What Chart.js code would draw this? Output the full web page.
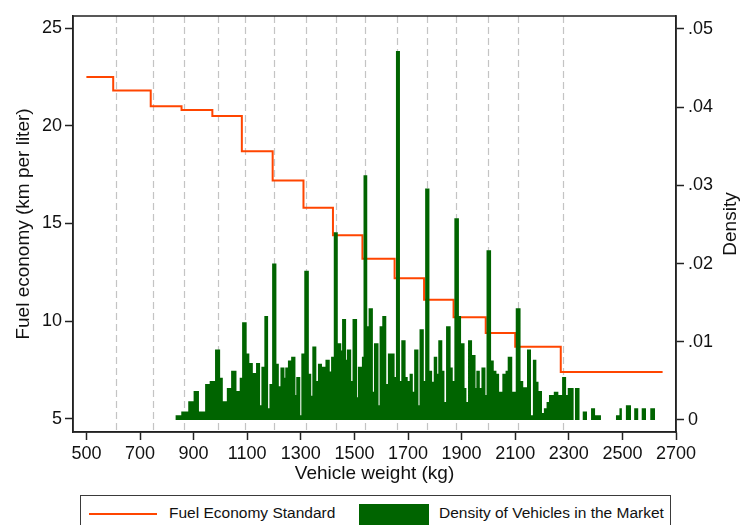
<!DOCTYPE html>
<html>
<head>
<meta charset="utf-8">
<script src="https://cdn.jsdelivr.net/npm/chart.js@4.4.1/dist/chart.umd.min.js"></script>
<style>
  html, body { margin: 0; padding: 0; background: #fff; }
  #wrap { position: relative; width: 741px; height: 525px; overflow: hidden;
          font-family: "Liberation Sans", Arial, sans-serif; color: #111; }
  #chart { position: absolute; left: 0; top: 0; }
  #legend { position: absolute; left: 80px; top: 495px; width: 589px; height: 40px;
            border: 1px solid #3a3a3a; background: #fff; }
  #legend .swatch-line { position: absolute; left: 8px; top: 17px; width: 68px; height: 2px; background: #ff4500; }
  #legend .swatch-box { position: absolute; left: 278px; top: 8px; width: 70px; height: 32px; background: #006400; }
  #legend .label { position: absolute; top: 8px; font-size: 15.5px; line-height: 18px; white-space: nowrap; }
</style>
</head>
<body>
<div id="wrap">
  <canvas id="chart" width="741" height="525"></canvas>
  <div id="legend">
    <div class="swatch-line"></div>
    <div class="label" style="left:88px">Fuel Economy Standard</div>
    <div class="swatch-box"></div>
    <div class="label" style="left:358px">Density of Vehicles in the Market</div>
  </div>
</div>
<script>
// ---------------------------------------------------------------------------
// Data
// ---------------------------------------------------------------------------

const weightTicks = [500, 700, 900, 1100, 1300, 1500, 1700, 1900, 2100, 2300, 2500, 2700];
const fuelTicks = [5, 10, 15, 20, 25];
const densityTicks = [0, 0.01, 0.02, 0.03, 0.04, 0.05];

// fuel economy standard: level starts at each weight break (km/l)
const stdBreaks = [500, 600, 740, 855, 970, 1080, 1195, 1310, 1420, 1530, 1650, 1760, 1870, 1990, 2100, 2270, 2650];
const stdLevels = [22.5, 21.8, 21.0, 20.8, 20.5, 18.7, 17.2, 15.8, 14.4, 13.2, 12.2, 11.1, 10.2, 9.4, 8.7, 7.4, 7.4];

// dashed reference lines (kg)
const thresholdLines = [610, 750, 865, 990, 1090, 1200, 1320, 1430, 1540, 1660, 1770, 1880, 2000, 2110, 2280];

// histogram: left edge of each bar (kg) and its density
const histStart = [
  832, 854, 880, 900, 920, 943, 960, 980, 999, 1009, 1024, 1040, 1060, 1072, 1081, 1098, 1108, 1121, 1133, 1148,
  1153, 1164, 1178, 1183, 1193, 1209, 1218, 1224, 1239, 1242, 1252, 1264, 1280, 1283, 1298, 1302, 1313, 1330, 1339, 1343,
  1358, 1364, 1379, 1392, 1408, 1413, 1423, 1438, 1451, 1454, 1469, 1472, 1488, 1493, 1510, 1513, 1528, 1534, 1548, 1553,
  1569, 1573, 1590, 1594, 1604, 1619, 1625, 1650, 1655, 1670, 1675, 1691, 1699, 1706, 1718, 1723, 1739, 1743, 1759, 1764,
  1780, 1790, 1796, 1809, 1813, 1828, 1836, 1842, 1859, 1867, 1873, 1890, 1898, 1911, 1918, 1924, 1939, 1952, 1955, 1968,
  1974, 1989, 1993, 2010, 2020, 2030, 2040, 2052, 2064, 2072, 2089, 2102, 2120, 2130, 2144, 2159, 2166, 2179, 2187, 2200,
  2207, 2217, 2226, 2244, 2261, 2275, 2290, 2296, 2318, 2323, 2340, 2352, 2368, 2383, 2398, 2420, 2476, 2489, 2498, 2513,
  2532, 2544, 2559, 2572, 2588, 2604, 2622,
];
const histDensity = [
  0.0006, 0.0011, 0.0024, 0.0037, 0.0011, 0.0046, 0.0050, 0.0090, 0.0054, 0.0024, 0.0041, 0.0063, 0.0037, 0.0054, 0.0125, 0.0085, 0.0073, 0.0060, 0.0073, 0.0019,
  0.0068, 0.0133, 0.0015, 0.0046, 0.0200, 0.0072, 0.0043, 0.0067, 0.0054, 0.0067, 0.0076, 0.0081, 0.0032, 0.0055, 0.0006, 0.0085, 0.0191, 0.0059, 0.0031, 0.0094,
  0.0050, 0.0072, 0.0068, 0.0077, 0.0062, 0.0081, 0.0240, 0.0098, 0.0089, 0.0129, 0.0077, 0.0090, 0.0050, 0.0129, 0.0029, 0.0068, 0.0081, 0.0313, 0.0120, 0.0143,
  0.0036, 0.0098, 0.0019, 0.0120, 0.0133, 0.0046, 0.0085, 0.0055, 0.0472, 0.0050, 0.0102, 0.0055, 0.0050, 0.0059, 0.0036, 0.0090, 0.0019, 0.0116, 0.0050, 0.0296,
  0.0063, 0.0049, 0.0081, 0.0059, 0.0102, 0.0063, 0.0023, 0.0120, 0.0067, 0.0050, 0.0258, 0.0133, 0.0098, 0.0041, 0.0023, 0.0102, 0.0083, 0.0041, 0.0063, 0.0041,
  0.0067, 0.0032, 0.0217, 0.0076, 0.0063, 0.0059, 0.0036, 0.0059, 0.0063, 0.0081, 0.0036, 0.0143, 0.0050, 0.0042, 0.0090, 0.0006, 0.0077, 0.0049, 0.0037, 0.0009,
  0.0015, 0.0023, 0.0032, 0.0036, 0.0032, 0.0055, 0.0032, 0.0041, 0, 0.0041, 0, 0.0011, 0, 0.0015, 0.0006, 0, 0.0006, 0.0015, 0, 0.0019,
  0, 0.0015, 0, 0.0015, 0, 0.0015, 0,
];

// ---------------------------------------------------------------------------
// Plugins: dashed threshold lines, plot frame, right-hand title
// ---------------------------------------------------------------------------

const FONT = "'Liberation Sans', Arial, sans-serif";
const INK = "#111";
const AXIS = "#222";

const thresholdLinesPlugin = {
  id: "thresholdLines",
  beforeDatasetsDraw(chart) {
    const { ctx, chartArea, scales } = chart;
    ctx.save();
    ctx.strokeStyle = "#c4c4c4";
    ctx.lineWidth = 1.2;
    ctx.setLineDash([7, 4]);
    thresholdLines.forEach(kg => {
      const x = Math.round(scales.x.getPixelForValue(kg)) + 0.5;
      ctx.beginPath();
      ctx.moveTo(x, chartArea.top);
      ctx.lineTo(x, chartArea.bottom);
      ctx.stroke();
    });
    ctx.restore();
  },
};

const framePlugin = {
  id: "frame",
  afterDraw(chart) {
    const { ctx, chartArea } = chart;
    ctx.save();
    ctx.strokeStyle = AXIS;
    ctx.lineWidth = 1.5;
    ctx.strokeRect(chartArea.left, chartArea.top, chartArea.right - chartArea.left, chartArea.bottom - chartArea.top);
    // Chart.js turns right-hand titles the other way, so draw this one by hand
    ctx.translate(chart.width - 10, (chartArea.top + chartArea.bottom) / 2);
    ctx.rotate(-Math.PI / 2);
    ctx.fillStyle = INK;
    ctx.font = "19px " + FONT;
    ctx.textAlign = "center";
    ctx.textBaseline = "middle";
    ctx.fillText("Density", 0, 0);
    ctx.restore();
  },
};

// ---------------------------------------------------------------------------
// Chart
// ---------------------------------------------------------------------------

Chart.defaults.font.family = FONT;
Chart.defaults.color = INK;

const tickFont = { size: 18 };
const titleFont = { size: 19 };
const axisGrid = { drawOnChartArea: false, drawTicks: true, tickLength: 8, tickWidth: 1.5, tickColor: AXIS };
const axisBorder = { color: AXIS, width: 1.5 };

new Chart(document.getElementById("chart"), {
  type: "line",
  data: {
    datasets: [
      {
        label: "Density of Vehicles in the Market",
        data: histStart.map((kg, i) => ({ x: kg, y: histDensity[i] })),
        yAxisID: "yDensity",
        stepped: true,
        fill: "origin",
        backgroundColor: "#006400",
        borderWidth: 0,
        pointRadius: 0,
        order: 0,
      },
      {
        label: "Fuel Economy Standard",
        data: stdBreaks.map((kg, i) => ({ x: kg, y: stdLevels[i] })),
        yAxisID: "yFuel",
        stepped: true,
        fill: false,
        borderColor: "#ff4500",
        borderWidth: 2,
        pointRadius: 0,
        order: 1,
      },
    ],
  },
  options: {
    responsive: false,
    animation: false,
    events: [],
    layout: { padding: { top: 16, bottom: 40, left: 0, right: 0 } },
    plugins: { legend: { display: false }, tooltip: { enabled: false } },
    scales: {
      x: {
        type: "linear",
        position: "bottom",
        min: 450,
        max: 2700,
        afterBuildTicks: s => { s.ticks = weightTicks.map(v => ({ value: v })); },
        afterFit: s => { s.height = 53; },
        ticks: { font: tickFont, color: INK, padding: 3, maxRotation: 0, autoSkip: false, callback: v => String(v) },
        grid: axisGrid,
        border: axisBorder,
        title: { display: true, text: "Vehicle weight (kg)", font: titleFont, color: INK, padding: { top: 0, bottom: 0 } },
      },
      yFuel: {
        type: "linear",
        position: "left",
        min: 4.335,
        max: 25.614,
        afterBuildTicks: s => { s.ticks = fuelTicks.map(v => ({ value: v })); },
        afterFit: s => { s.width = 73; },
        ticks: { font: tickFont, color: INK, padding: 3, callback: v => String(v) },
        grid: axisGrid,
        border: axisBorder,
        title: { display: true, text: "Fuel economy (km per liter)", font: titleFont, color: INK, padding: { top: 12, bottom: 0 } },
      },
      yDensity: {
        type: "linear",
        position: "right",
        min: -0.001535,
        max: 0.05166,
        afterBuildTicks: s => { s.ticks = densityTicks.map(v => ({ value: v })); },
        afterFit: s => { s.width = 65; },
        ticks: { font: tickFont, color: INK, padding: 4, callback: v => (v === 0 ? "0" : v.toFixed(2).replace(/^0/, "")) },
        grid: axisGrid,
        border: axisBorder,
      },
    },
  },
  plugins: [thresholdLinesPlugin, framePlugin],
});
</script>
</body>
</html>
